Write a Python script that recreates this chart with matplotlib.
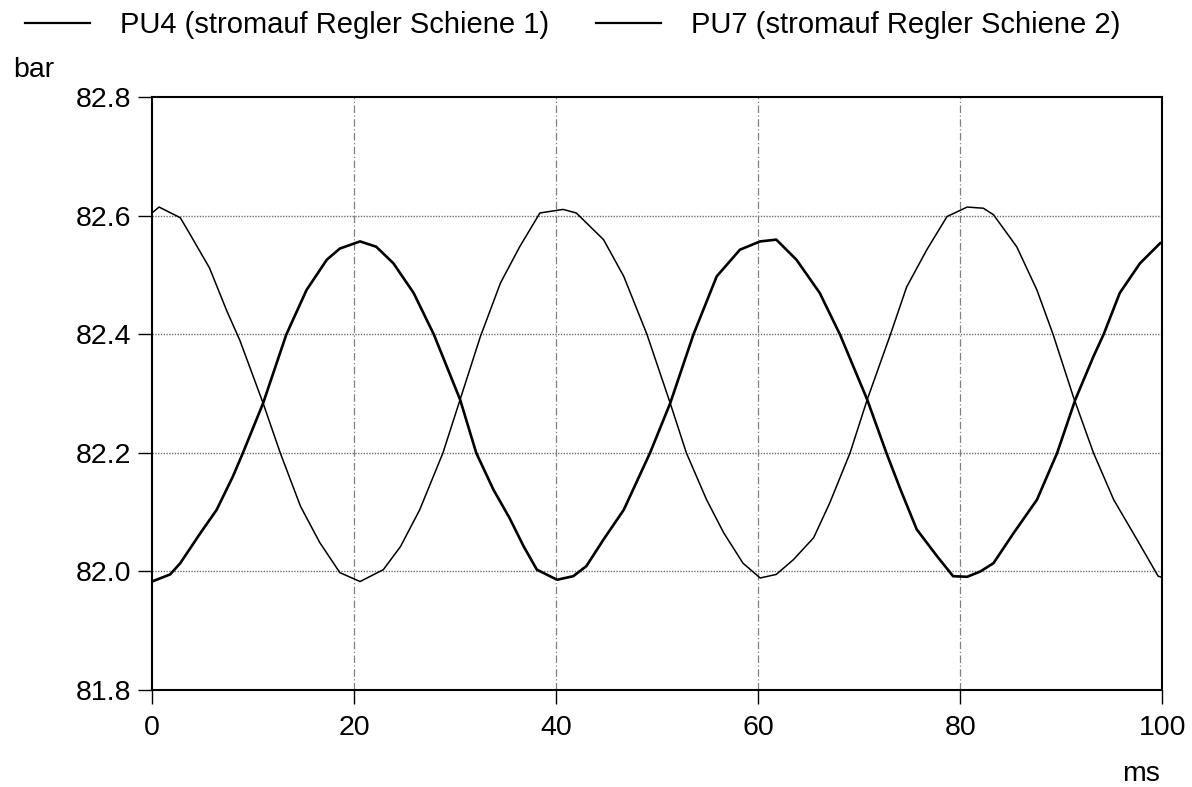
import matplotlib
matplotlib.use("Agg")
import matplotlib.pyplot as plt

plt.rcParams["font.family"] = ["Liberation Sans", "DejaVu Sans"]

# values (time in ms, pressure in bar)
t_pu4 = [0.0, 0.7, 2.8, 3.6, 5.7, 7.4, 8.7, 11.0, 12.7, 14.7, 16.6, 18.6, 20.6,
         22.9, 24.6, 26.5, 28.8, 30.5, 32.5, 34.5, 36.4, 38.4, 40.7, 42.0, 44.7,
         46.7, 49.0, 51.3, 52.9, 54.9, 56.6, 58.5, 60.2, 61.8, 63.5, 65.5, 67.1,
         69.1, 70.8, 73.1, 74.7, 76.7, 78.7, 80.7, 82.3, 83.3, 85.6, 87.6, 89.2,
         91.2, 93.2, 95.2, 97.5, 99.6, 100.0]
p_pu4 = [82.605, 82.615, 82.597, 82.574, 82.512, 82.44, 82.39, 82.284, 82.2,
         82.11, 82.049, 81.998, 81.983, 82.003, 82.042, 82.104, 82.2, 82.29,
         82.396, 82.487, 82.548, 82.605, 82.611, 82.605, 82.56, 82.498, 82.40,
         82.284, 82.2, 82.121, 82.065, 82.014, 81.989, 81.995, 82.02, 82.057,
         82.116, 82.2, 82.29, 82.40, 82.48, 82.543, 82.599, 82.615, 82.613,
         82.602, 82.548, 82.475, 82.40, 82.295, 82.2, 82.121, 82.054, 81.992,
         81.99]

t_pu7 = [0.0, 1.8, 2.8, 4.8, 6.4, 8.0, 9.0, 11.0, 13.3, 15.3, 17.3, 18.6, 20.6,
         22.2, 23.9, 25.9, 27.9, 28.8, 30.5, 32.1, 33.8, 35.4, 36.8, 38.1, 40.1,
         41.7, 43.0, 44.7, 46.7, 49.3, 51.3, 53.6, 55.9, 58.2, 60.2, 61.8, 63.8,
         66.1, 68.1, 70.8, 72.7, 74.1, 75.7, 77.7, 79.3, 80.7, 82.0, 83.3, 85.3,
         87.6, 89.6, 91.4, 93.2, 94.2, 95.8, 97.8, 99.8]
p_pu7 = [81.983, 81.995, 82.014, 82.065, 82.104, 82.16, 82.2, 82.284, 82.40,
         82.475, 82.526, 82.545, 82.557, 82.548, 82.52, 82.47, 82.40, 82.362,
         82.29, 82.2, 82.138, 82.09, 82.042, 82.003, 81.986, 81.992, 82.009,
         82.054, 82.104, 82.2, 82.284, 82.40, 82.498, 82.543, 82.557, 82.56,
         82.526, 82.47, 82.40, 82.29, 82.2, 82.138, 82.071, 82.026, 81.992,
         81.991, 82.0, 82.014, 82.065, 82.121, 82.2, 82.29, 82.363, 82.40,
         82.47, 82.52, 82.554]

x_ticks = [0, 20, 40, 60, 80, 100]
y_ticks = [81.8, 82.0, 82.2, 82.4, 82.6, 82.8]

fig = plt.figure(figsize=(11.92, 7.87), dpi=100)
ax = fig.add_axes([0.1275, 0.1233, 0.8475, 0.7529])

ax.plot(t_pu4, p_pu4, color="black", lw=1.1, label="PU4 (stromauf Regler Schiene 1)")
ax.plot(t_pu7, p_pu7, color="black", lw=1.9, label="PU7 (stromauf Regler Schiene 2)")

ax.set_xlim(0, 100)
ax.set_ylim(81.8, 82.8)
ax.set_xticks(x_ticks)
ax.set_yticks(y_ticks)
ax.set_xticklabels([str(v) for v in x_ticks])
ax.set_yticklabels([f"{v:.1f}" for v in y_ticks])
ax.tick_params(direction="out", length=10, width=1, labelsize=20.5, color="black")
ax.tick_params(axis="x", pad=8)
ax.tick_params(axis="y", pad=5)

for v in y_ticks[1:-1]:
    ax.axhline(v, color="#707070", lw=1.0, ls=(0, (1, 1)), zorder=0)
for v in x_ticks[1:-1]:
    ax.axvline(v, color="#808080", lw=0.9, ls=(0, (6, 2, 1, 2)), zorder=0)

for s in ax.spines.values():
    s.set_linewidth(1.5)

fig.text(13 / 1192, 1 - 77 / 787, "bar", fontsize=20.5, ha="left", va="baseline")
fig.text(1141 / 1192, 1 - 781 / 787, "ms", fontsize=20.5, ha="center", va="baseline")

leg = fig.legend(loc="center left", bbox_to_anchor=(25 / 1192, 1 - 25 / 787), ncol=2,
                 frameon=False, borderpad=0, borderaxespad=0, fontsize=21,
                 handlelength=2.23, handletextpad=1.03, columnspacing=1.6)
for h in leg.legend_handles:
    h.set_linewidth(1.6)

fig.savefig("out.png", dpi=100)
